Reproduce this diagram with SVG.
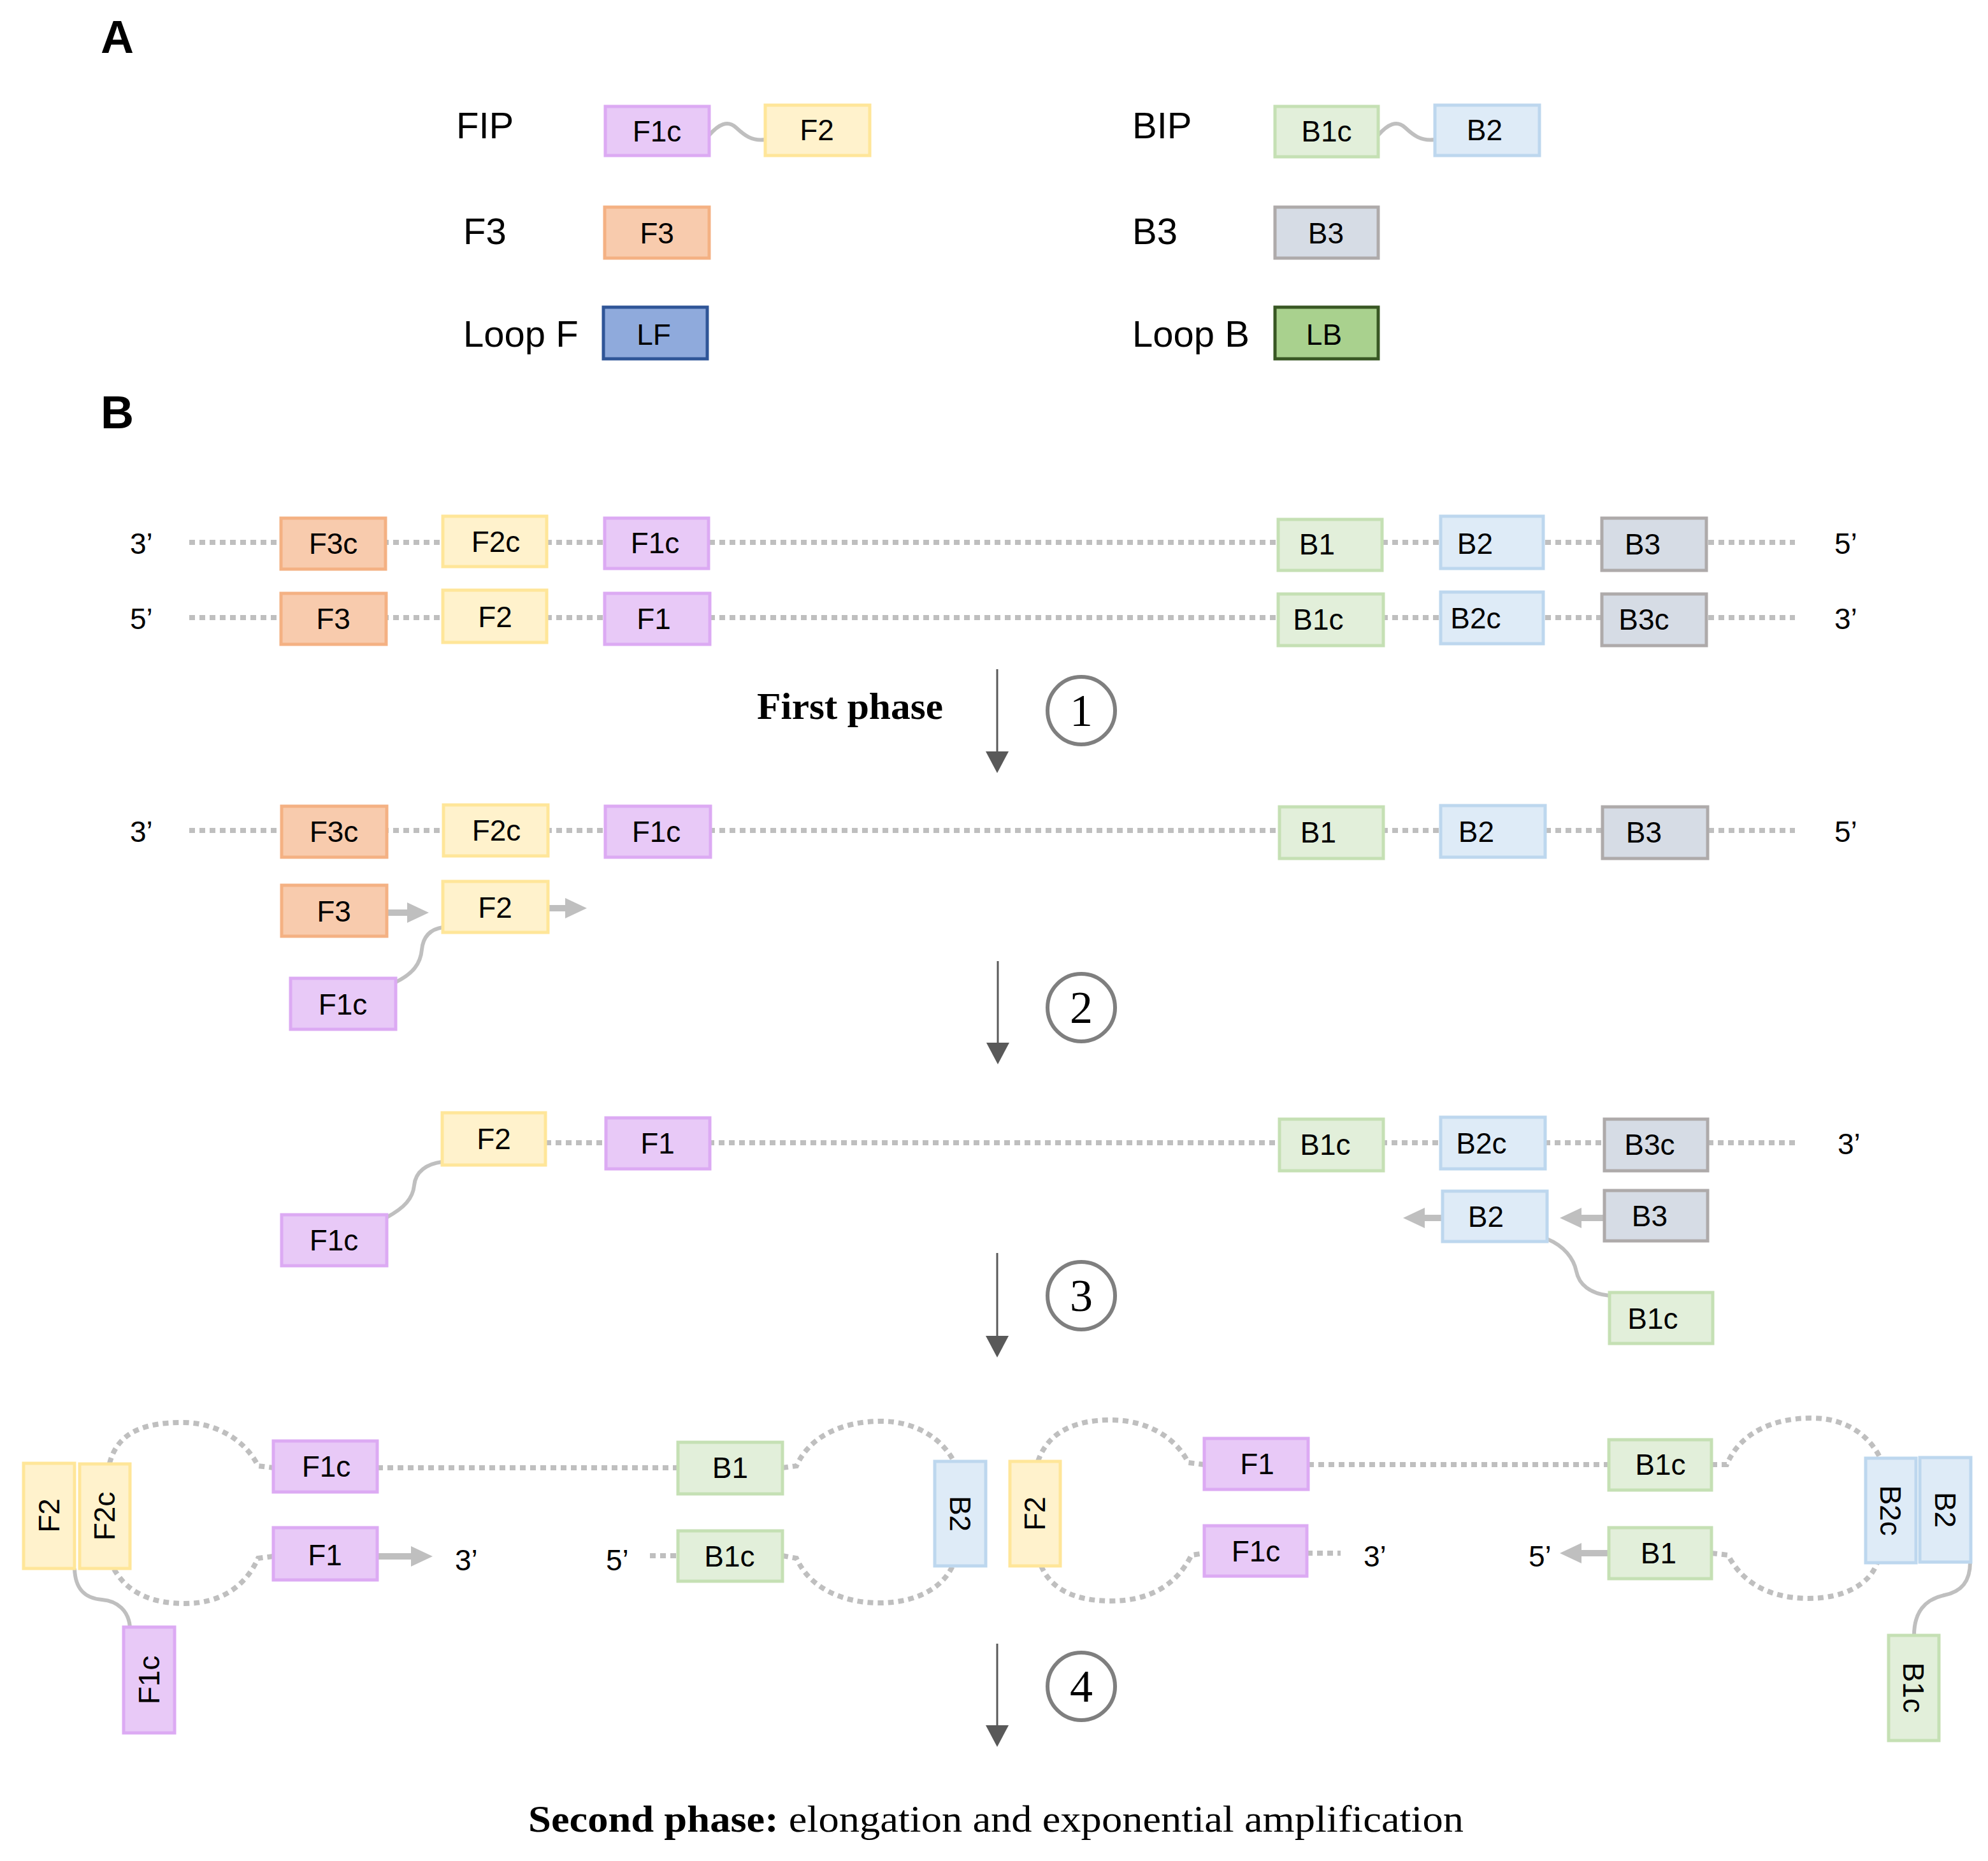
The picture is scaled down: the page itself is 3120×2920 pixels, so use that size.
<svg xmlns="http://www.w3.org/2000/svg" width="3120" height="2920" viewBox="0 0 3120 2920">
<style>
.bx{stroke-width:5}
.pu{fill:#e8c9f7;stroke:#dcaaf3}
.ye{fill:#fff2cc;stroke:#ffe699}
.or{fill:#f8cbad;stroke:#f4b183}
.gr{fill:#e2efda;stroke:#c5e0b4}
.bl{fill:#deebf7;stroke:#bdd7ee}
.gy{fill:#d6dce5;stroke:#aeaaaa}
.lf{fill:#8faadc;stroke:#2f5597}
.lb{fill:#a9d18e;stroke:#385723}
.t{font-family:"Liberation Sans",Arial,sans-serif;font-size:46px;fill:#000;text-anchor:middle}
.e{font-family:"Liberation Sans",Arial,sans-serif;font-size:46px;fill:#000}
.lbl{font-family:"Liberation Sans",Arial,sans-serif;font-size:58px;fill:#000}
.pan{font-family:"Liberation Sans",Arial,sans-serif;font-size:72px;font-weight:bold;fill:#000}
.ser{font-family:"Liberation Serif","Times New Roman",serif;fill:#000}
.num{font-family:"Liberation Serif","Times New Roman",serif;font-size:72px;fill:#000;text-anchor:middle}
.dna{stroke:#bfbfbf;stroke-width:8;stroke-dasharray:9 7;fill:none}
.lnk{stroke:#bfbfbf;stroke-width:6;fill:none}
.ga{stroke:#bfbfbf;stroke-width:10;fill:none}
.da{stroke:#595959;stroke-width:3;fill:none}
.cir{fill:#fff;stroke:#7f7f7f;stroke-width:6}
</style>
<defs>
<marker id="gh" markerUnits="userSpaceOnUse" markerWidth="34" markerHeight="32" refX="0" refY="16" orient="auto"><path d="M0,0 L34,16 L0,32 z" fill="#bfbfbf"/></marker>
<marker id="dh" markerUnits="userSpaceOnUse" markerWidth="34" markerHeight="36" refX="0" refY="18" orient="auto"><path d="M0,0 L34,18 L0,36 z" fill="#595959"/></marker>
</defs>
<rect width="3120" height="2920" fill="#fff"/>

<g id="panel-labels">
<text class="pan" x="158" y="83">A</text>
<text class="pan" x="158" y="672">B</text>
<text class="lbl" x="716" y="217">FIP</text>
<text class="lbl" x="727" y="383">F3</text>
<text class="lbl" x="727" y="544">Loop F</text>
<text class="lbl" x="1777" y="217">BIP</text>
<text class="lbl" x="1777" y="383">B3</text>
<text class="lbl" x="1777" y="544">Loop B</text>
</g>

<g id="connectors">
<path class="lnk" d="M1113,212 C1128,195 1142,188 1155,200 S1180,222 1201,219"/>
<path class="lnk" d="M2163,212 C2178,195 2192,188 2205,200 S2230,222 2252,219"/>
<line class="dna" x1="297" y1="851" x2="2817" y2="851"/>
<line class="dna" x1="297" y1="969" x2="2817" y2="969"/>
<line class="dna" x1="297" y1="1303" x2="2817" y2="1303"/>
<line class="dna" x1="856" y1="1793" x2="2817" y2="1793"/>
<line class="ga" x1="607" y1="1432" x2="639" y2="1432" marker-end="url(#gh)"/>
<line class="ga" x1="860" y1="1425" x2="887" y2="1425" marker-end="url(#gh)"/>
<path class="lnk" d="M621,1541 C648,1528 660,1512 662,1490 C664,1470 675,1458 695,1455"/>
<path class="lnk" d="M607,1910 C635,1895 648,1880 650,1860 C652,1838 670,1826 694,1823"/>
<line class="ga" x1="2264" y1="1911" x2="2236" y2="1911" marker-end="url(#gh)"/>
<line class="ga" x1="2518" y1="1911" x2="2482" y2="1911" marker-end="url(#gh)"/>
<path class="lnk" d="M2428,1944 C2455,1955 2470,1975 2474,1995 C2478,2015 2495,2030 2526,2033"/>
<line class="da" x1="1565" y1="1050" x2="1565" y2="1179" marker-end="url(#dh)"/>
<line class="da" x1="1566" y1="1508" x2="1566" y2="1636" marker-end="url(#dh)"/>
<line class="da" x1="1565" y1="1966" x2="1565" y2="2096" marker-end="url(#dh)"/>
<line class="da" x1="1565" y1="2579" x2="1565" y2="2707" marker-end="url(#dh)"/>
<path class="dna" d="M172,2296 C185,2245 230,2232 286,2232 C340,2232 385,2260 405,2300 L429,2303"/>
<path class="dna" d="M179,2462 C200,2500 240,2516 290,2516 C345,2516 385,2490 405,2445 L429,2442"/>
<line class="dna" x1="592" y1="2303" x2="1064" y2="2303"/>
<line class="ga" x1="592" y1="2442" x2="645" y2="2442" marker-end="url(#gh)"/>
<line class="dna" x1="1020" y1="2441" x2="1064" y2="2441"/>
<path class="dna" d="M1228,2303 L1250,2300 C1270,2255 1320,2230 1383,2230 C1440,2230 1480,2260 1497,2293"/>
<path class="dna" d="M1228,2441 L1250,2445 C1270,2490 1320,2515 1380,2515 C1440,2515 1480,2490 1495,2457"/>
<path class="lnk" d="M117,2461 C118,2495 135,2508 160,2510 C185,2512 202,2528 204,2553"/>
<path class="dna" d="M1629,2293 C1645,2245 1690,2228 1743,2228 C1800,2228 1845,2255 1865,2295 L1890,2298"/>
<path class="dna" d="M1634,2457 C1650,2495 1690,2512 1743,2512 C1800,2512 1845,2490 1870,2440 L1890,2437"/>
<line class="dna" x1="2053" y1="2298" x2="2525" y2="2298"/>
<line class="dna" x1="2051" y1="2437" x2="2104" y2="2437"/>
<line class="ga" x1="2525" y1="2437" x2="2482" y2="2437" marker-end="url(#gh)"/>
<path class="dna" d="M2686,2298 L2710,2298 C2730,2250 2780,2225 2843,2225 C2900,2225 2935,2255 2951,2288"/>
<path class="dna" d="M2686,2437 L2712,2440 C2735,2485 2780,2508 2838,2508 C2895,2508 2935,2485 2946,2452"/>
<path class="lnk" d="M3092,2451 C3092,2482 3078,2498 3051,2503 C3020,2510 3004,2530 3004,2566"/>
</g>

<g id="A-FIP-F1c"><rect class="bx pu" x="950" y="167" width="163" height="77"/><text class="t" x="1031" y="222">F1c</text></g>
<g id="A-FIP-F2"><rect class="bx ye" x="1201" y="165" width="164" height="79"/><text class="t" x="1282" y="220">F2</text></g>
<g id="A-F3"><rect class="bx or" x="949" y="325" width="164" height="80"/><text class="t" x="1031" y="382">F3</text></g>
<g id="A-LF"><rect class="bx lf" x="947" y="482" width="163" height="81"/><text class="t" x="1026" y="541">LF</text></g>
<g id="A-BIP-B1c"><rect class="bx gr" x="2001" y="167" width="162" height="79"/><text class="t" x="2082" y="222">B1c</text></g>
<g id="A-BIP-B2"><rect class="bx bl" x="2252" y="165" width="164" height="79"/><text class="t" x="2330" y="220">B2</text></g>
<g id="A-B3"><rect class="bx gy" x="2001" y="325" width="162" height="80"/><text class="t" x="2081" y="382">B3</text></g>
<g id="A-LB"><rect class="bx lb" x="2001" y="482" width="162" height="81"/><text class="t" x="2078" y="541">LB</text></g>

<g id="row1-labels"><text class="e" x="204" y="869">3’</text><text class="e" x="2879" y="869">5’</text></g>
<g id="r1-F3c"><rect class="bx or" x="441" y="813" width="164" height="80"/><text class="t" x="523" y="869">F3c</text></g>
<g id="r1-F2c"><rect class="bx ye" x="695" y="810" width="163" height="79"/><text class="t" x="778" y="866">F2c</text></g>
<g id="r1-F1c"><rect class="bx pu" x="949" y="813" width="163" height="79"/><text class="t" x="1028" y="868">F1c</text></g>
<g id="r1-B1"><rect class="bx gr" x="2006" y="815" width="163" height="80"/><text class="t" x="2067" y="870">B1</text></g>
<g id="r1-B2"><rect class="bx bl" x="2261" y="810" width="161" height="82"/><text class="t" x="2315" y="869">B2</text></g>
<g id="r1-B3"><rect class="bx gy" x="2514" y="813" width="164" height="82"/><text class="t" x="2578" y="870">B3</text></g>

<g id="row2-labels"><text class="e" x="204" y="987">5’</text><text class="e" x="2879" y="987">3’</text></g>
<g id="r2-F3"><rect class="bx or" x="441" y="931" width="165" height="80"/><text class="t" x="523" y="987">F3</text></g>
<g id="r2-F2"><rect class="bx ye" x="695" y="926" width="163" height="82"/><text class="t" x="777" y="984">F2</text></g>
<g id="r2-F1"><rect class="bx pu" x="949" y="931" width="165" height="80"/><text class="t" x="1026" y="987">F1</text></g>
<g id="r2-B1c"><rect class="bx gr" x="2006" y="932" width="165" height="81"/><text class="t" x="2069" y="988">B1c</text></g>
<g id="r2-B2c"><rect class="bx bl" x="2261" y="929" width="161" height="81"/><text class="t" x="2316" y="986">B2c</text></g>
<g id="r2-B3c"><rect class="bx gy" x="2514" y="932" width="164" height="81"/><text class="t" x="2580" y="988">B3c</text></g>

<g id="step1"><text class="ser" x="1188" y="1128" font-size="60" font-weight="bold" textLength="292" lengthAdjust="spacingAndGlyphs">First phase</text><circle class="cir" cx="1697" cy="1115" r="53"/><text class="num" x="1697" y="1139">1</text></g>

<g id="row3-labels"><text class="e" x="204" y="1321">3’</text><text class="e" x="2879" y="1321">5’</text></g>
<g id="r3-F3c"><rect class="bx or" x="442" y="1265" width="165" height="80"/><text class="t" x="524" y="1321">F3c</text></g>
<g id="r3-F2c"><rect class="bx ye" x="696" y="1263" width="164" height="80"/><text class="t" x="779" y="1319">F2c</text></g>
<g id="r3-F1c"><rect class="bx pu" x="950" y="1265" width="165" height="80"/><text class="t" x="1030" y="1321">F1c</text></g>
<g id="r3-B1"><rect class="bx gr" x="2008" y="1266" width="163" height="81"/><text class="t" x="2069" y="1322">B1</text></g>
<g id="r3-B2"><rect class="bx bl" x="2261" y="1264" width="164" height="81"/><text class="t" x="2317" y="1321">B2</text></g>
<g id="r3-B3"><rect class="bx gy" x="2515" y="1266" width="165" height="81"/><text class="t" x="2580" y="1322">B3</text></g>
<g id="r4-F3"><rect class="bx or" x="442" y="1389" width="165" height="80"/><text class="t" x="524" y="1446">F3</text></g>
<g id="r4-F2"><rect class="bx ye" x="695" y="1383" width="165" height="80"/><text class="t" x="777" y="1440">F2</text></g>
<g id="r4-F1c"><rect class="bx pu" x="456" y="1535" width="165" height="80"/><text class="t" x="538" y="1592">F1c</text></g>

<g id="step2"><circle class="cir" cx="1697" cy="1581" r="53"/><text class="num" x="1697" y="1605">2</text></g>

<g id="row5-labels"><text class="e" x="2884" y="1811">3’</text></g>
<g id="r5-F2"><rect class="bx ye" x="694" y="1746" width="162" height="82"/><text class="t" x="775" y="1803">F2</text></g>
<g id="r5-F1"><rect class="bx pu" x="951" y="1754" width="163" height="80"/><text class="t" x="1032" y="1810">F1</text></g>
<g id="r5-F1c"><rect class="bx pu" x="442" y="1906" width="165" height="80"/><text class="t" x="524" y="1962">F1c</text></g>
<g id="r5-B1c"><rect class="bx gr" x="2008" y="1756" width="163" height="81"/><text class="t" x="2080" y="1812">B1c</text></g>
<g id="r5-B2c"><rect class="bx bl" x="2261" y="1753" width="164" height="81"/><text class="t" x="2325" y="1810">B2c</text></g>
<g id="r5-B3c"><rect class="bx gy" x="2518" y="1756" width="162" height="81"/><text class="t" x="2589" y="1812">B3c</text></g>
<g id="r5-B2"><rect class="bx bl" x="2264" y="1869" width="164" height="79"/><text class="t" x="2332" y="1925">B2</text></g>
<g id="r5-B3"><rect class="bx gy" x="2518" y="1868" width="162" height="79"/><text class="t" x="2589" y="1924">B3</text></g>
<g id="r5-B1c-primer"><rect class="bx gr" x="2526" y="2028" width="162" height="80"/><text class="t" x="2594" y="2085">B1c</text></g>

<g id="step3"><circle class="cir" cx="1697" cy="2033" r="53"/><text class="num" x="1697" y="2057">3</text></g>

<g id="row6-labels">
<text class="e" x="714" y="2464">3’</text><text class="e" x="951" y="2464">5’</text>
<text class="e" x="2140" y="2458">3’</text><text class="e" x="2399" y="2458">5’</text>
</g>
<g id="r6-F2"><rect class="bx ye" x="37" y="2296" width="80" height="165"/><text class="t" transform="translate(77,2378) rotate(-90)" y="16">F2</text></g>
<g id="r6-F2c"><rect class="bx ye" x="125" y="2297" width="79" height="164"/><text class="t" transform="translate(164,2379) rotate(-90)" y="16">F2c</text></g>
<g id="r6-F1c-tail"><rect class="bx pu" x="194" y="2553" width="80" height="166"/><text class="t" transform="translate(234,2636) rotate(-90)" y="16">F1c</text></g>
<g id="r6-F1c"><rect class="bx pu" x="429" y="2261" width="163" height="80"/><text class="t" x="512" y="2317">F1c</text></g>
<g id="r6-F1"><rect class="bx pu" x="429" y="2397" width="163" height="82"/><text class="t" x="510" y="2456">F1</text></g>
<g id="r6-B1"><rect class="bx gr" x="1064" y="2263" width="164" height="81"/><text class="t" x="1146" y="2319">B1</text></g>
<g id="r6-B1c"><rect class="bx gr" x="1064" y="2402" width="164" height="79"/><text class="t" x="1145" y="2458">B1c</text></g>
<g id="r6-B2"><rect class="bx bl" x="1467" y="2293" width="80" height="164"/><text class="t" transform="translate(1507,2375) rotate(90)" y="16">B2</text></g>
<g id="r6-F2b"><rect class="bx ye" x="1585" y="2293" width="79" height="164"/><text class="t" transform="translate(1624,2375) rotate(-90)" y="16">F2</text></g>
<g id="r6-F1b"><rect class="bx pu" x="1890" y="2257" width="163" height="80"/><text class="t" x="1973" y="2313">F1</text></g>
<g id="r6-F1cb"><rect class="bx pu" x="1890" y="2394" width="161" height="79"/><text class="t" x="1971" y="2450">F1c</text></g>
<g id="r6-B1cb"><rect class="bx gr" x="2525" y="2259" width="161" height="79"/><text class="t" x="2606" y="2314">B1c</text></g>
<g id="r6-B1b"><rect class="bx gr" x="2525" y="2397" width="161" height="80"/><text class="t" x="2603" y="2453">B1</text></g>
<g id="r6-B2c"><rect class="bx bl" x="2928" y="2288" width="79" height="164"/><text class="t" transform="translate(2967,2370) rotate(90)" y="16">B2c</text></g>
<g id="r6-B2b"><rect class="bx bl" x="3013" y="2287" width="80" height="164"/><text class="t" transform="translate(3053,2369) rotate(90)" y="16">B2</text></g>
<g id="r6-B1c-tail"><rect class="bx gr" x="2964" y="2566" width="79" height="165"/><text class="t" transform="translate(3003,2648) rotate(90)" y="16">B1c</text></g>

<g id="step4"><circle class="cir" cx="1697" cy="2646" r="53"/><text class="num" x="1697" y="2670">4</text></g>

<g id="caption"><text class="ser" x="829" y="2874" font-size="60" textLength="1468" lengthAdjust="spacingAndGlyphs"><tspan font-weight="bold">Second phase:</tspan> elongation and exponential amplification</text></g>
</svg>
